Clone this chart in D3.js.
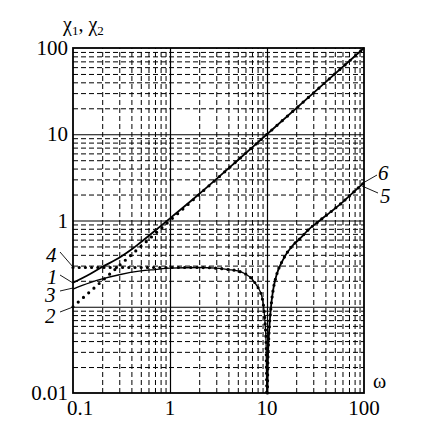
<!DOCTYPE html>
<html>
<head>
<meta charset="utf-8">
<script src="https://cdn.jsdelivr.net/npm/d3@7"></script>
<style>
  body { margin: 0; background: #fff; }
</style>
</head>
<body>
<div id="chart"></div>
<script>
(function () {

var serif = "'Liberation Serif', 'Times New Roman', 'DejaVu Serif', serif";

// tick labels (0.1 on the y axis is left out, the curve numbers sit there)
var xTicks = [0.1, 1, 10, 100];
var yTicks = [0.01, 1, 10, 100];

// curve 1 (upper solid)
var omega1 = [0.1, 0.15, 0.2, 0.3, 0.4, 0.5, 0.7, 1, 2, 5, 10, 100];
var chi1   = [0.19, 0.24, 0.29, 0.37, 0.46, 0.56, 0.76, 1.06, 2.03, 5, 10, 100];

// curve 2 (dotted, asymptote)
var omega2 = [0.1, 0.2, 0.3, 0.5, 0.7, 1, 2, 5, 10, 100];
var chi2   = [0.1, 0.2, 0.3, 0.5, 0.7, 1.0, 2.0, 5, 10, 100];

// curve 3 (lower solid, left of the zero)
var omega3 = [0.1, 0.15, 0.2, 0.3, 0.5, 0.7, 1, 2, 3, 4, 5, 6, 7, 8, 8.5, 9, 9.5, 9.8, 9.95];
var chi3   = [0.16, 0.19, 0.21, 0.235, 0.26, 0.27, 0.28, 0.285, 0.28, 0.27, 0.26, 0.24, 0.21, 0.17, 0.15, 0.12, 0.07, 0.035, 0.01];

// curve 4 (dotted, left of the zero)
var omega4 = [0.1, 0.3, 0.7, 1, 2, 3, 4, 5, 6, 7, 8, 8.5, 9, 9.5, 9.8, 9.95];
var chi4   = [0.285, 0.285, 0.285, 0.285, 0.285, 0.28, 0.27, 0.26, 0.24, 0.21, 0.17, 0.15, 0.12, 0.07, 0.035, 0.01];

// curve 5 (solid, right of the zero)
var omega5 = [10.1, 10.2, 10.5, 11, 11.5, 12.5, 14.6, 18, 22, 26, 35, 45, 57, 75, 100];
var chi5   = [0.01, 0.022, 0.05, 0.1, 0.15, 0.23, 0.35, 0.5, 0.62, 0.76, 1.0, 1.25, 1.55, 2.05, 2.75];

// curve 6 (dotted, right of the zero)
var omega6 = [10.1, 10.2, 10.5, 11, 11.5, 12.5, 14.6, 18, 22, 26, 35, 45, 57, 75, 100];
var chi6   = [0.01, 0.022, 0.05, 0.1, 0.15, 0.23, 0.35, 0.5, 0.62, 0.76, 1.0, 1.25, 1.55, 2.05, 2.75];

var W = 442, H = 427;
var left = 73, right = 364, top = 48, bottom = 393;

var svg = d3.select("#chart").append("svg")
    .attr("width", W)
    .attr("height", H)
    .style("font-family", serif);

var x = d3.scaleLog().domain([0.1, 100]).range([left, right]);
var y = d3.scaleLog().domain([0.01, 100]).range([bottom, top]);

// minor grid values, 2..9 in each decade
var minors = [];
[0.1, 1, 10].forEach(function (d) {
  for (var k = 2; k <= 9; k++) minors.push(d * k);
});
var yMinors = [];
[0.01, 0.1, 1, 10].forEach(function (d) {
  for (var k = 2; k <= 9; k++) yMinors.push(d * k);
});

function grid(g, dash, w) {
  g.select(".domain").remove();
  g.selectAll("text").remove();
  g.selectAll("line")
    .attr("stroke", "#000")
    .attr("stroke-width", w)
    .attr("stroke-dasharray", dash);
}

// dashed minor grid
svg.append("g")
    .attr("transform", "translate(0," + bottom + ")")
    .call(d3.axisBottom(x).tickValues(minors).tickSize(-(bottom - top)))
    .call(grid, "5,3", 1);

svg.append("g")
    .attr("transform", "translate(" + left + ",0)")
    .call(d3.axisLeft(y).tickValues(yMinors).tickSize(-(right - left)))
    .call(grid, "5,3", 1);

// solid major grid
svg.append("g")
    .attr("transform", "translate(0," + bottom + ")")
    .call(d3.axisBottom(x).tickValues([1, 10]).tickSize(-(bottom - top)))
    .call(grid, null, 1.2);

svg.append("g")
    .attr("transform", "translate(" + left + ",0)")
    .call(d3.axisLeft(y).tickValues([0.1, 1, 10]).tickSize(-(right - left)))
    .call(grid, null, 1.2);

// frame
svg.append("rect")
    .attr("x", left)
    .attr("y", top)
    .attr("width", right - left)
    .attr("height", bottom - top)
    .attr("fill", "none")
    .attr("stroke", "#000")
    .attr("stroke-width", 1.8);

var line = d3.line()
    .x(function (d) { return x(d[0]); })
    .y(function (d) { return y(d[1]); })
    .curve(d3.curveMonotoneX);

function pairs(a, b) { return a.map(function (v, i) { return [v, b[i]]; }); }

// solid curves
svg.append("path").datum(pairs(omega1, chi1))
    .attr("d", line).attr("fill", "none").attr("stroke", "#000").attr("stroke-width", 1.8);
svg.append("path").datum(pairs(omega3, chi3))
    .attr("d", line).attr("fill", "none").attr("stroke", "#000").attr("stroke-width", 1.3);
svg.append("path").datum(pairs(omega5, chi5))
    .attr("d", line).attr("fill", "none").attr("stroke", "#000").attr("stroke-width", 1.8);

// dotted curves
[[omega2, chi2, "0 7"], [omega4, chi4, "0 6.2"], [omega6, chi6, "0 6"]].forEach(function (s) {
  svg.append("path").datum(pairs(s[0], s[1]))
      .attr("d", line)
      .attr("fill", "none")
      .attr("stroke", "#000")
      .attr("stroke-width", 3.2)
      .attr("stroke-linecap", "round")
      .attr("stroke-dasharray", s[2]);
});

// tick labels
svg.selectAll(".ylab").data(yTicks).enter().append("text")
    .attr("x", 68)
    .attr("y", function (d) { return y(d) + 7; })
    .attr("text-anchor", "end")
    .style("font-size", "21px")
    .text(function (d) { return d; });

svg.selectAll(".xlab").data(xTicks).enter().append("text")
    .attr("x", function (d, i) { return i === 0 ? x(d) + 7 : x(d); })
    .attr("y", 415)
    .attr("text-anchor", "middle")
    .style("font-size", "21px")
    .text(function (d) { return d; });

// axis titles
var yt = svg.append("text").attr("x", 63).attr("y", 31).style("font-size", "20px");
yt.append("tspan").text("χ");
yt.append("tspan").attr("dy", 4).style("font-size", "13px").text("1");
yt.append("tspan").attr("dy", -4).text(", χ");
yt.append("tspan").attr("dy", 4).style("font-size", "13px").text("2");

svg.append("text").attr("x", 373).attr("y", 388).style("font-size", "20px").text("ω");

// curve numbers with leader lines
var notes = [
  { t: "4", tx: 46, ty: 262, x1: 60, y1: 252, x2: 73, y2: 267 },
  { t: "1", tx: 47, ty: 284, x1: 60, y1: 275, x2: 73, y2: 283 },
  { t: "3", tx: 45, ty: 302, x1: 60, y1: 291, x2: 73, y2: 288 },
  { t: "2", tx: 45, ty: 323, x1: 60, y1: 312, x2: 73, y2: 307 },
  { t: "6", tx: 378, ty: 180, x1: 377, y1: 175, x2: 363, y2: 183 },
  { t: "5", tx: 380, ty: 203, x1: 378, y1: 193, x2: 362, y2: 186 }
];
notes.forEach(function (n) {
  svg.append("line")
      .attr("x1", n.x1).attr("y1", n.y1).attr("x2", n.x2).attr("y2", n.y2)
      .attr("stroke", "#000").attr("stroke-width", 0.9);
  svg.append("text")
      .attr("x", n.tx).attr("y", n.ty)
      .style("font-size", "21px")
      .style("font-style", "italic")
      .text(n.t);
});

})();
</script>
</body>
</html>
